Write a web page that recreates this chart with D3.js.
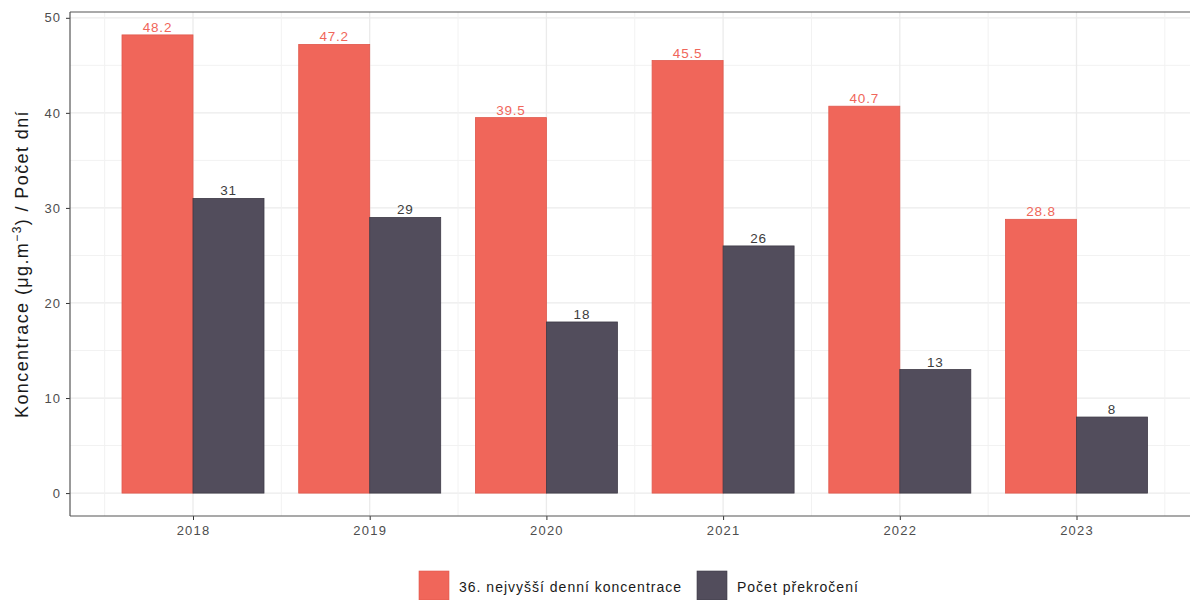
<!DOCTYPE html>
<html><head><meta charset="utf-8">
<script src="https://cdn.jsdelivr.net/npm/d3@7"></script>
<style>body{margin:0;background:#fff}svg{display:block;font-family:"Liberation Sans",Arial,sans-serif}</style>
</head><body><svg id="c" width="1190" height="600"></svg>
<script>
const years = [2018, 2019, 2020, 2021, 2022, 2023];
const conc36 = [48.2, 47.2, 39.5, 45.5, 40.7, 28.8];
const exceed = [31, 29, 18, 26, 13, 8];
const concLabels = ["48.2", "47.2", "39.5", "45.5", "40.7", "28.8"];
const seriesNames = ["36. nejvyšší denní koncentrace", "Počet překročení"];
const yTicks = [0, 10, 20, 30, 40, 50];

const svg = d3.select("#c");
const L = 70, T = 12, B = 516;
const colors = ["#F0665A", "#524D5C"];
const strokes = ["#E0584C", "#3E3A46"];

const y = d3.scaleLinear().domain([-2.41, 50.61]).range([B, T]);
const x = d3.scaleLinear().domain([2018, 2023]).range([193, 1076.5]);
const step = x(2019) - x(2018);
const R = x(2023) + 0.694 * step;
const bw = 71;

// grid
const g = svg.append("g");
d3.range(5, 50, 10).forEach(v => g.append("line").attr("x1", L).attr("x2", R).attr("y1", y(v)).attr("y2", y(v)).attr("stroke", "#f2f2f2").attr("stroke-width", 1));
yTicks.forEach(v => g.append("line").attr("x1", L).attr("x2", R).attr("y1", y(v)).attr("y2", y(v)).attr("stroke", "#ebebeb").attr("stroke-width", 1.3));
d3.range(2017.5, 2024, 1).forEach(v => g.append("line").attr("x1", x(v)).attr("x2", x(v)).attr("y1", T).attr("y2", B).attr("stroke", "#f2f2f2").attr("stroke-width", 1));
years.forEach(v => g.append("line").attr("x1", x(v)).attr("x2", x(v)).attr("y1", T).attr("y2", B).attr("stroke", "#ebebeb").attr("stroke-width", 1.3));

// bars
const series = [conc36, exceed];
series.forEach((vals, si) => {
  svg.append("g").selectAll("rect").data(vals).join("rect")
    .attr("x", (d, i) => x(years[i]) - bw + si * bw)
    .attr("width", bw)
    .attr("y", d => y(d))
    .attr("height", d => y(0) - y(d))
    .attr("fill", colors[si])
    .attr("stroke", strokes[si]).attr("stroke-width", 0.8);
  svg.append("g").selectAll("text").data(vals).join("text")
    .attr("x", (d, i) => x(years[i]) - bw / 2 + si * bw)
    .attr("y", d => y(d) - 3)
    .attr("text-anchor", "middle")
    .attr("font-size", 13.5)
    .attr("letter-spacing", 0.8)
    .attr("fill", si === 0 ? "#F0665A" : "#3d3d3d")
    .text((d, i) => si === 0 ? concLabels[i] : d);
});

// axes
const ya = svg.append("g").attr("transform", `translate(${L},0)`)
  .call(d3.axisLeft(y).tickValues(yTicks).tickSize(4).tickPadding(5));
ya.select(".domain").remove();
ya.selectAll("line").attr("stroke", "#333");
ya.selectAll("text").attr("font-size", 13).attr("letter-spacing", 1).attr("fill", "#4d4d4d").attr("font-family", "Liberation Sans, Arial, sans-serif");

const xa = svg.append("g").attr("transform", `translate(0,${B})`)
  .call(d3.axisBottom(x).tickValues(years).tickFormat(d3.format("d")).tickSize(4).tickPadding(6));
xa.select(".domain").remove();
xa.selectAll("line").attr("stroke", "#333");
xa.selectAll("text").attr("font-size", 13).attr("letter-spacing", 1.2).attr("fill", "#4d4d4d").attr("font-family", "Liberation Sans, Arial, sans-serif");

// panel lines
svg.append("line").attr("x1", L).attr("x2", L).attr("y1", T).attr("y2", B).attr("stroke", "#555").attr("stroke-width", 1.2);
svg.append("line").attr("x1", L).attr("x2", R).attr("y1", B).attr("y2", B).attr("stroke", "#555").attr("stroke-width", 1.2);
svg.append("line").attr("x1", L).attr("x2", R).attr("y1", T).attr("y2", T).attr("stroke", "#555").attr("stroke-width", 1.2);

// y title
const yt = svg.append("text").attr("transform", `translate(28,${(T + B) / 2}) rotate(-90)`)
  .attr("text-anchor", "middle").attr("font-size", 18).attr("letter-spacing", 1.4).attr("fill", "#1a1a1a");
yt.append("tspan").text("Koncentrace (μg.m");
yt.append("tspan").attr("font-size", 12).attr("dy", -7).text("−3");
yt.append("tspan").attr("dy", 7).text(") / Počet dní");

// legend
const lg = svg.append("g");
const lx = [419, 697];
seriesNames.forEach((n, i) => {
  lg.append("rect").attr("x", lx[i]).attr("y", 571).attr("width", 30).attr("height", 29)
    .attr("fill", colors[i]).attr("stroke", strokes[i]).attr("stroke-width", 0.6);
  lg.append("text").attr("x", lx[i] + 40).attr("y", 592).attr("font-size", 14).attr("letter-spacing", 1).attr("fill", "#1a1a1a").text(n);
});
</script></body></html>
